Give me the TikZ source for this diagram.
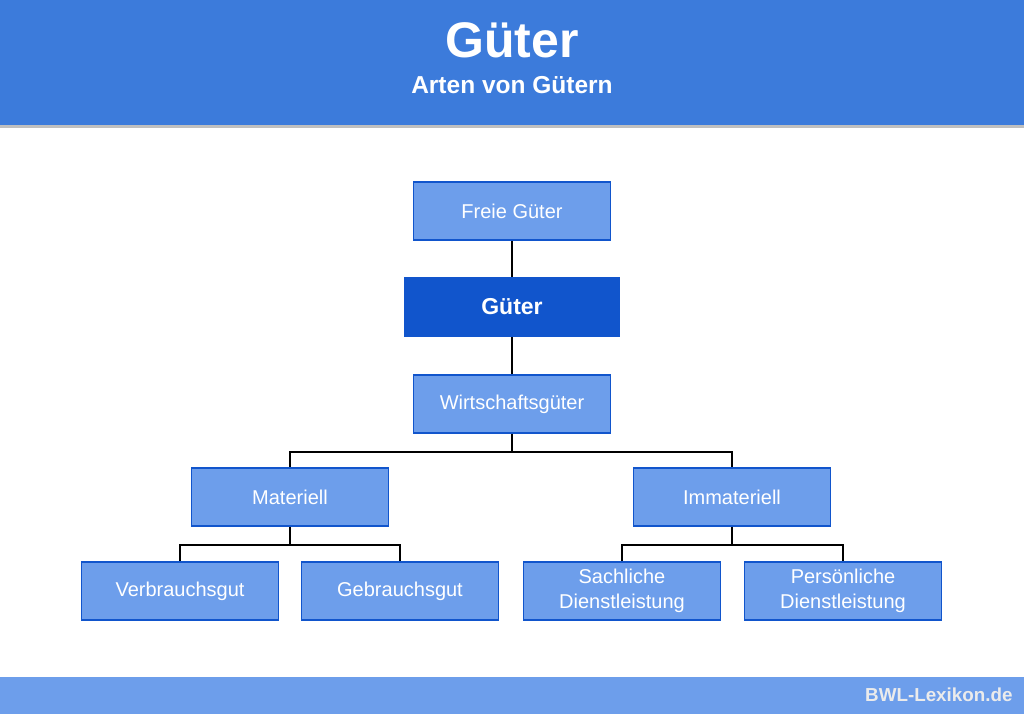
\documentclass[tikz,border=0pt]{standalone}
\usepackage{fontspec}
\setmainfont{Liberation Sans}
\usetikzlibrary{calc}

\definecolor{headblue}{HTML}{3C7BDB}
\definecolor{boxblue}{HTML}{6D9EEB}
\definecolor{darkblue}{HTML}{1155CC}

\begin{document}
\begin{tikzpicture}[x=1pt,y=-1pt,
  box/.style={draw=darkblue,line width=1.8pt,fill=boxblue,text=white,
    minimum width=197pt,minimum height=58pt,inner sep=0pt,
    align=center,font=\fontsize{20}{25}\selectfont},
  mainbox/.style={box,draw=darkblue,fill=darkblue,minimum width=214pt,
    minimum height=59pt,font=\fontsize{23}{27}\selectfont\bfseries},
  link/.style={draw=black,line width=1.3pt}]

\useasboundingbox (0,0) rectangle (1024,714);

% header and footer
\fill[black!25] (0,124) rectangle (1024,128);
\fill[headblue] (0,0) rectangle (1024,125);
\node[text=white,font=\fontsize{50}{50}\selectfont\bfseries] (title) at (512,40) {Güter};
\node[text=white,font=\fontsize{24.5}{26}\selectfont\bfseries] (subtitle) at (512,85) {Arten von Gütern};
\fill[boxblue] (0,677) rectangle (1024,714);
\node[anchor=east,text=white!92!black,font=\fontsize{18.8}{20}\selectfont\bfseries] (site) at (1016,695) {BWL-Lexikon.de};

% tree
\node[box] (freie) at (512,211) {Freie Güter};
\node[mainbox] (gueter) at (512,307) {Güter};
\node[box] (wirt) at (512,404) {Wirtschaftsgüter};
\node[box] (mat) at (290,497) {Materiell};
\node[box] (immat) at (732,497) {Immateriell};
\node[box] (verb) at (180,591) {Verbrauchsgut};
\node[box] (gebr) at (400,591) {Gebrauchsgut};
\node[box] (sach) at (622,591) {Sachliche\\Dienstleistung};
\node[box] (pers) at (843,591) {Persönliche\\Dienstleistung};

\def\drop{18}

\draw[link] (freie.south) -- (gueter.north);
\draw[link] (gueter.south) -- (wirt.north);
\draw[link] (wirt.south) -- ++(0,\drop) -| (mat.north);
\draw[link] (wirt.south) -- ++(0,\drop) -| (immat.north);
\draw[link] (mat.south) -- ++(0,\drop) -| (verb.north);
\draw[link] (mat.south) -- ++(0,\drop) -| (gebr.north);
\draw[link] (immat.south) -- ++(0,\drop) -| (sach.north);
\draw[link] (immat.south) -- ++(0,\drop) -| (pers.north);

\end{tikzpicture}
\end{document}
